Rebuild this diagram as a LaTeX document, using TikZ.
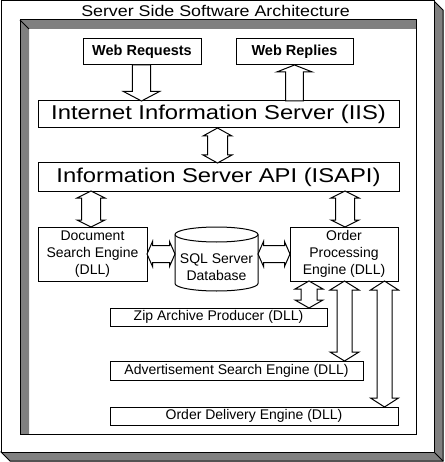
\documentclass[tikz,border=0pt]{standalone}
\usepackage{fontspec}
\setmainfont{Liberation Sans}
\newfontfamily\widefont[FakeStretch=1.19]{Liberation Sans}
\newfontfamily\titlefont[FakeStretch=1.15]{Liberation Sans}
\usetikzlibrary{calc}
\definecolor{bev}{RGB}{128,128,128}
% vertical double block arrow: x, upper node, lower node, shaft half, head half, head length
\newcommand\vdbl[6]{\draw[blk] let \p1=(#2.south), \p2=(#3.north) in
 (#1pt,\y1) -- (#1pt+#5pt,\y1-#6pt) -- (#1pt+#4pt,\y1-#6pt) -- (#1pt+#4pt,\y2+#6pt)
 -- (#1pt+#5pt,\y2+#6pt) -- (#1pt,\y2) -- (#1pt-#5pt,\y2+#6pt) -- (#1pt-#4pt,\y2+#6pt)
 -- (#1pt-#4pt,\y1-#6pt) -- (#1pt-#5pt,\y1-#6pt) -- cycle;}
% vertical single block arrow pointing down
\newcommand\vdown[6]{\draw[blk] let \p1=(#2.south), \p2=(#3.north) in
 (#1pt-#4pt,\y1) -- (#1pt-#4pt,\y2+#6pt) -- (#1pt-#5pt,\y2+#6pt) -- (#1pt,\y2)
 -- (#1pt+#5pt,\y2+#6pt) -- (#1pt+#4pt,\y2+#6pt) -- (#1pt+#4pt,\y1) -- cycle;}
% vertical single block arrow pointing up
\newcommand\vup[6]{\draw[blk] let \p1=(#2.south), \p2=(#3.north) in
 (#1pt-#4pt,\y2) -- (#1pt-#4pt,\y1-#6pt) -- (#1pt-#5pt,\y1-#6pt) -- (#1pt,\y1)
 -- (#1pt+#5pt,\y1-#6pt) -- (#1pt+#4pt,\y1-#6pt) -- (#1pt+#4pt,\y2) -- cycle;}
% horizontal double block arrow: y(pixel), left node, right node, shaft half, head half, head length
\newcommand\hdbl[6]{\draw[blk] let \p1=(#2.east), \p2=(#3.west) in
 (\x1,-#1pt) -- (\x1+#6pt,-#1pt+#5pt) -- (\x1+#6pt,-#1pt+#4pt) -- (\x2-#6pt,-#1pt+#4pt)
 -- (\x2-#6pt,-#1pt+#5pt) -- (\x2,-#1pt) -- (\x2-#6pt,-#1pt-#5pt) -- (\x2-#6pt,-#1pt-#4pt)
 -- (\x1+#6pt,-#1pt-#4pt) -- (\x1+#6pt,-#1pt-#5pt) -- cycle;}
\begin{document}
\begin{tikzpicture}[x=1pt,y=1pt,line width=1pt,
  box/.style={draw, fill=white, inner sep=0pt, outer sep=0pt, align=center},
  blk/.style={draw, fill=white, line join=miter},
  small/.style={font=\fontsize{14}{17}\selectfont},
  big/.style={font=\widefont\fontsize{20}{24}\selectfont},
  webtxt/.style={font=\bfseries\fontsize{14.5}{17}\selectfont}]
\useasboundingbox (0,0) rectangle (444,-462);
% outer raised frame
\draw[fill=bev] (434,-1) -- (443,-10) -- (443,-461) -- (10,-461) -- (1,-452) -- (434,-452) -- cycle;
\draw[fill=white] (1,-1) rectangle (434,-452);
\draw (434,-452) -- (443,-461);
% inner sunken panel
\fill[white] (20,-20) rectangle (416,-434);
\fill[bev] (20,-20) -- (416,-20) -- (416,-29) -- (29,-29) -- (29,-434) -- (20,-434) -- cycle;
\draw (20,-20) rectangle (416,-434);
\draw (20,-20) -- (29,-29);
% title
\node[anchor=base, font=\titlefont\fontsize{15.5}{18}\selectfont] (title) at (215.5,-17) {Server Side Software Architecture};
% boxes
\node[box, webtxt, minimum width=118pt, minimum height=26pt] (req) at (142,-52) {Web Requests};
\node[box, webtxt, minimum width=117pt, minimum height=26pt] (rep) at (294.5,-52) {Web Replies};
\node[box, big, minimum width=361pt, minimum height=27pt] (iis) at (218.5,-114.5) {Internet Information Server (IIS)};
\node[box, big, minimum width=361pt, minimum height=28pt] (isapi) at (218.5,-177) {Information Server API (ISAPI)};
\node[box, small, minimum width=109pt, minimum height=54pt] (dse) at (92.5,-254) {Document\\Search Engine\\(DLL)};
\node[box, small, minimum width=108pt, minimum height=54pt] (ope) at (344,-254) {Order\\Processing\\Engine (DLL)};
\node[box, small, minimum width=217pt, minimum height=18pt] (zip) at (218.5,-317) {Zip Archive Producer (DLL)};
\node[box, small, minimum width=253pt, minimum height=19pt] (adv) at (236.5,-370.5) {Advertisement Search Engine (DLL)};
\node[box, small, minimum width=288pt, minimum height=18pt] (odl) at (254,-416) {Order Delivery Engine (DLL)};
% database cylinder
\node[inner sep=0pt, outer sep=0pt, minimum width=83pt, minimum height=64pt] (db) at (216.5,-259) {};
\draw[fill=white] (175,-234.5) -- (175,-283.5) arc[start angle=180,end angle=360,x radius=41.5,y radius=7.5]
  -- (258,-234.5) arc[start angle=0,end angle=180,x radius=41.5,y radius=7.5] -- cycle;
\draw (175,-234.5) arc[start angle=180,end angle=360,x radius=41.5,y radius=7.5];
\node[small, align=center, inner sep=0pt] (dbtext) at (216.5,-267) {SQL Server\\Database};
% block arrows
\vdown{141.5}{req}{iis}{9.2}{18}{9.5}
\vup{294.5}{rep}{iis}{8.8}{17.8}{7}
\vdbl{217.5}{iis}{isapi}{10}{14.5}{8}
\vdbl{91}{isapi}{dse}{9.5}{14}{7}
\vdbl{345}{isapi}{ope}{9.5}{14}{7}
\hdbl{254}{dse}{db}{8.5}{12.5}{5.5}
\hdbl{254}{db}{ope}{8.5}{12.5}{5.5}
\vdbl{309}{ope}{zip}{8}{14}{8}
\vdbl{344.5}{ope}{adv}{7.5}{14.5}{9}
\vdbl{384.5}{ope}{odl}{7.5}{14}{9}
\end{tikzpicture}
\end{document}
